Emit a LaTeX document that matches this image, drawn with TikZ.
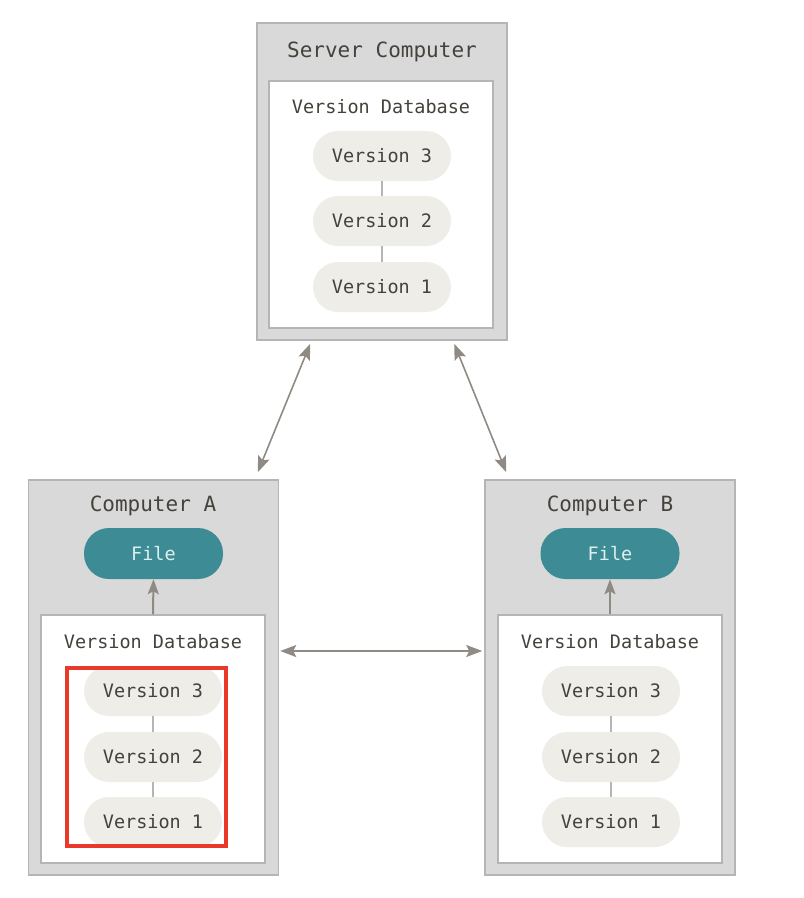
\documentclass[tikz,border=0pt]{standalone}
\usepackage{fontspec}
\setmonofont{DejaVu Sans Mono}
\usetikzlibrary{arrows.meta,calc}
\definecolor{boxfill}{HTML}{D9D9D9}
\definecolor{boxline}{HTML}{B5B5B5}
\definecolor{pillfill}{HTML}{EEEDE7}
\definecolor{txt}{HTML}{45423C}
\definecolor{arrowc}{HTML}{8F8A83}
\definecolor{teal}{HTML}{3D8C95}
\definecolor{filetxt}{HTML}{DDEEEE}
\definecolor{redmark}{HTML}{E8392B}
\tikzset{
  outerbox/.style={draw=boxline, fill=boxfill, line width=1.5pt, minimum width=250pt, inner sep=0pt},
  innerbox/.style={draw=boxline, fill=white, line width=1.5pt, minimum width=224pt, minimum height=248pt, inner sep=0pt},
  title/.style={font=\ttfamily\fontsize{21}{24}\selectfont, text=txt, inner sep=0pt},
  dbtitle/.style={font=\ttfamily\fontsize{18.5}{22}\selectfont, text=txt, inner sep=0pt},
  pill/.style={fill=pillfill, rounded corners=25pt, minimum width=138pt, minimum height=50pt, inner sep=0pt, font=\ttfamily\fontsize{18.5}{22}\selectfont, text=txt},
  filepill/.style={fill=teal, rounded corners=25pt, minimum width=139pt, minimum height=51pt, inner sep=0pt, font=\ttfamily\fontsize{18.5}{22}\selectfont, text=filetxt},
  link/.style={draw=boxline, line width=1.5pt},
  tipshape/.style={},
  biarrow/.style={draw=arrowc, line width=1.6pt, {Stealth[length=16pt,width=12pt,inset=3pt]}-{Stealth[length=16pt,width=12pt,inset=3pt]}},
  uparrow/.style={draw=arrowc, line width=2pt, -{Stealth[length=15pt,width=11pt,inset=3pt]}},
}
\begin{document}
\begin{tikzpicture}[x=1pt,y=-1pt]
\useasboundingbox (0,0) rectangle (804,898);
% Server
\node[outerbox, minimum height=317pt] (srv) at (382,181.5) {};
\node[innerbox, minimum height=247pt] (srvdb) at (381,204.5) {};
\node[title] (srvt) at (382,52) {Server Computer};
\node[dbtitle] (srvdbt) at (381,107) {Version Database};
\node[pill] (s3) at (382,156) {Version 3};
\node[pill] (s2) at (382,221) {Version 2};
\node[pill] (s1) at (382,287) {Version 1};
\draw[link] (s3.south) -- (s2.north);
\draw[link] (s2.south) -- (s1.north);
% Computer A
\node[outerbox, minimum height=395pt] (ca) at (153.5,677.5) {};
\node[innerbox] (cadb) at (153,739) {};
\node[title] (cat) at (153,506) {Computer A};
\node[filepill] (caf) at (153.5,553.5) {File};
\node[dbtitle] (cadbt) at (153,642) {Version Database};
\node[pill] (a3) at (153,691) {Version 3};
\node[pill] (a2) at (153,757) {Version 2};
\node[pill] (a1) at (153,822) {Version 1};
\draw[link] (a3.south) -- (a2.north);
\draw[link] (a2.south) -- (a1.north);
\draw[uparrow] (cadb.north) -- (caf.south);
% Computer B
\node[outerbox, minimum height=395pt] (cb) at (610,677.5) {};
\node[innerbox] (cbdb) at (610,739) {};
\node[title] (cbt) at (610,506) {Computer B};
\node[filepill] (cbf) at (610,553.5) {File};
\node[dbtitle] (cbdbt) at (610,642) {Version Database};
\node[pill] (b3) at (611,691) {Version 3};
\node[pill] (b2) at (611,757) {Version 2};
\node[pill] (b1) at (611,822) {Version 1};
\draw[link] (b3.south) -- (b2.north);
\draw[link] (b2.south) -- (b1.north);
\draw[uparrow] (cbdb.north) -- (cbf.south);
% Connectors between computers
\draw[biarrow] ([xshift=54pt,yshift=-3pt]srv.south west) -- ([xshift=230pt,yshift=7pt]ca.north west);
\draw[biarrow] ([xshift=198pt,yshift=-3pt]srv.south west) -- ([xshift=22pt,yshift=7pt]cb.north west);
\draw[biarrow] ([xshift=1pt,yshift=26.5pt]ca.east) -- ([xshift=-2pt,yshift=26.5pt]cb.west);
% Highlight
\node[draw=redmark, line width=4pt, minimum width=159pt, minimum height=178pt, inner sep=0pt] (hl) at (146.5,757) {};
\end{tikzpicture}
\end{document}
